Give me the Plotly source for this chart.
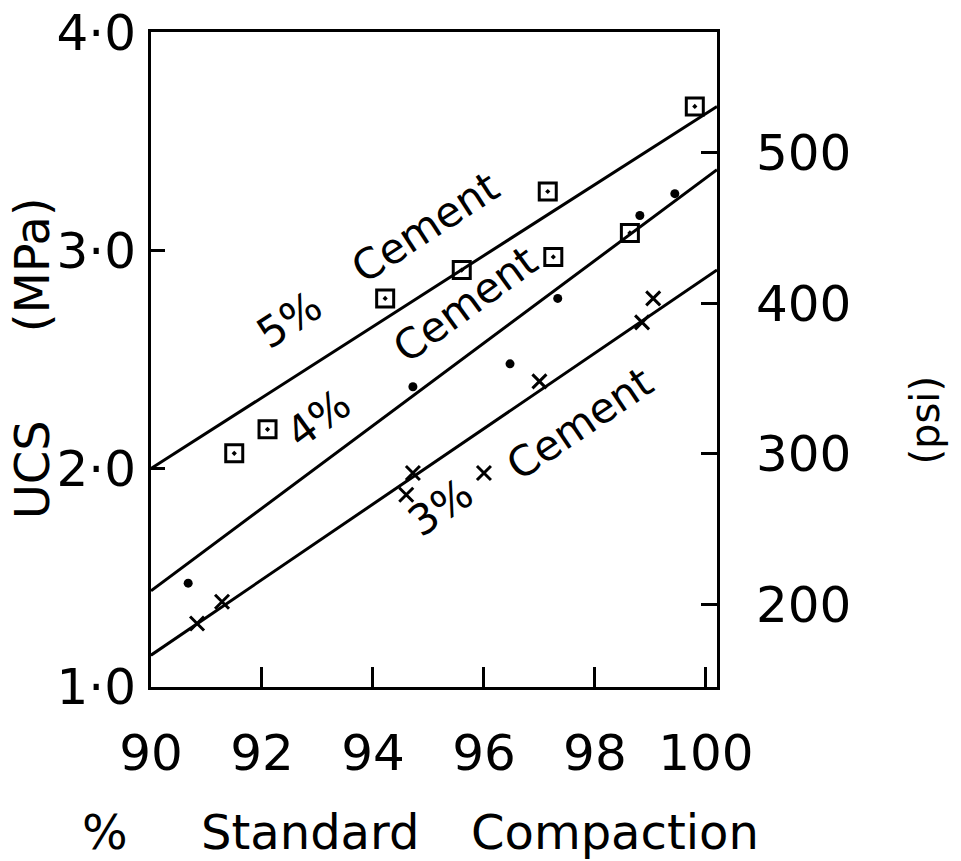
import plotly.graph_objects as go

# ---- data ----
x_5 = [91.5, 92.1, 94.22, 95.6, 97.15, 97.25, 98.63, 99.8]
y_5 = [2.07, 2.18, 2.78, 2.91, 3.27, 2.97, 3.08, 3.66]

x_4 = [90.67, 94.72, 96.47, 97.33, 98.81, 99.44]
y_4 = [1.475, 2.375, 2.48, 2.78, 3.16, 3.26]

x_3 = [90.83, 91.28, 94.6, 94.72, 96.0, 97.0, 98.85, 99.05]
y_3 = [1.29, 1.39, 1.88, 1.98, 1.98, 2.40, 2.67, 2.78]

fit_x = [90.0, 100.2]
fit_5 = [2.0, 3.66]
fit_4 = [1.44, 3.37]
fit_3 = [1.145, 2.91]

x_ticks = [90, 92, 94, 96, 98, 100]
x_ticktext = ["90", "92", "94", "96", "98", "100"]
y_ticks = [1.0, 2.0, 3.0, 4.0]
y_ticktext = ["1·0", "2·0", "3·0", "4·0"]
psi_ticks = [200, 300, 400, 500]
MPA_TO_PSI = 145.038

FONT = "DejaVu Sans"
X_RANGE = [90, 100.2]
Y_RANGE = [0.999, 4.001]

fig = go.Figure()

for fy in (fit_5, fit_4, fit_3):
    fig.add_trace(go.Scatter(x=fit_x, y=fy, mode="lines",
                             line=dict(color="black", width=3),
                             showlegend=False, hoverinfo="skip"))

fig.add_trace(go.Scatter(x=x_5, y=y_5, mode="markers",
                         marker=dict(symbol="square-open-dot", size=17, color="black",
                                     line=dict(width=3, color="black")),
                         showlegend=False))
fig.add_trace(go.Scatter(x=x_4, y=y_4, mode="markers",
                         marker=dict(symbol="circle", size=9, color="black"),
                         showlegend=False))
fig.add_trace(go.Scatter(x=x_3, y=y_3, mode="markers",
                         marker=dict(symbol="x-thin", size=14, color="black",
                                     line=dict(width=3, color="black")),
                         showlegend=False))

# invisible trace on the psi axis
fig.add_trace(go.Scatter(x=[90], y=[Y_RANGE[0] * MPA_TO_PSI], yaxis="y2",
                         mode="markers", marker=dict(opacity=0),
                         showlegend=False, hoverinfo="skip"))

ann_font = dict(family=FONT, size=42, color="black")
labels = [
    ("5%", 92.50, 2.683, -33),
    ("Cement", 94.94, 3.104, -33),
    ("4%", 93.01, 2.231, -36),
    ("Cement", 95.66, 2.751, -36),
    ("3%", 95.21, 1.824, -34),
    ("Cement", 97.73, 2.208, -34),
]
for txt, ax_, ay_, ang in labels:
    fig.add_annotation(x=ax_, y=ay_, text=txt, showarrow=False,
                       textangle=ang, font=ann_font,
                       xanchor="center", yanchor="middle")

title_font = dict(family=FONT, size=48, color="black")
# axis titles placed as paper-anchored text pieces
title_parts = [
    ("UCS", -0.210, 0.331, -90),
    ("(MPa)", -0.210, 0.644, -90),
    ("%", -0.081, -0.221, 0),
    ("Standard", 0.281, -0.221, 0),
    ("Compaction", 0.820, -0.221, 0),
]
for txt, px, py, ang in title_parts:
    fig.add_annotation(xref="paper", yref="paper", x=px, y=py, text=txt,
                       textangle=ang, showarrow=False, font=title_font,
                       xanchor="center", yanchor="middle")
fig.add_annotation(xref="paper", yref="paper", x=1.367, y=0.408,
                   text="(psi)", textangle=-90, showarrow=False,
                   font=dict(family=FONT, size=40, color="black"),
                   xanchor="center", yanchor="middle")

tick_font = dict(family=FONT, size=50, color="black")
fig.update_layout(
    width=961, height=861,
    margin=dict(l=151, r=244, t=32, b=174, autoexpand=False),
    paper_bgcolor="white", plot_bgcolor="white",
    font=dict(family=FONT, color="black"),
    xaxis=dict(range=X_RANGE, tickvals=x_ticks, ticktext=x_ticktext,
               ticks="inside", ticklen=20, tickwidth=3, tickcolor="black",
               showline=True, linewidth=3, linecolor="black", mirror=True,
               showgrid=False, zeroline=False, ticklabelstandoff=20,
               automargin=False, ticklabeloverflow="allow", tickfont=tick_font),
    yaxis=dict(range=Y_RANGE, tickvals=y_ticks, ticktext=y_ticktext,
               ticks="inside", ticklen=14, tickwidth=3, tickcolor="black",
               showline=True, linewidth=3, linecolor="black",
               showgrid=False, zeroline=False, ticklabelstandoff=2,
               automargin=False, ticklabeloverflow="allow", tickfont=tick_font),
    yaxis2=dict(range=[Y_RANGE[0] * MPA_TO_PSI, Y_RANGE[1] * MPA_TO_PSI],
                overlaying="y", side="right", tickvals=psi_ticks,
                ticks="inside", ticklen=16, tickwidth=3, tickcolor="black",
                showline=True, linewidth=3, linecolor="black",
                showgrid=False, zeroline=False, ticklabelstandoff=26,
                automargin=False, ticklabeloverflow="allow", tickfont=tick_font),
)

fig.write_html("out.html")
